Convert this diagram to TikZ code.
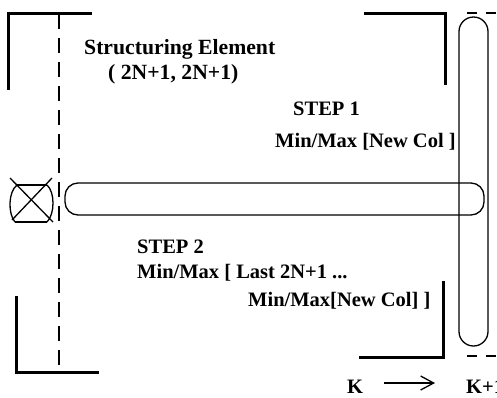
\documentclass[tikz,border=0pt]{standalone}
\usepackage{fontspec}
\setmainfont{Liberation Serif}
\usetikzlibrary{arrows.meta}
\tikzset{
  bracket/.style={line width=3pt, line cap=rect},
  capsule/.style={line width=1.3pt},
  guide/.style={line width=1.3pt, dash pattern=on 15pt off 9pt},
  guideh/.style={line width=1.3pt, dash pattern=on 10pt off 9pt},
  lbl/.style={font=\fontsize{20.5}{24}\selectfont\bfseries, inner sep=0pt, anchor=base west},
  biglbl/.style={lbl, font=\fontsize{21.7}{26}\selectfont\bfseries},
}
\begin{document}
\begin{tikzpicture}[x=1pt,y=-1pt]
\useasboundingbox (0,0) rectangle (497,397);
% brackets
\draw[bracket] (90,13) -- (8,13) -- (8,88);
\draw[bracket] (16,297) -- (16,372) -- (97,372);
\draw[bracket] (365,13) -- (445,13) -- (445,83);
\draw[bracket] (443,282) -- (443,357) -- (360,357);
% dashed guide
\draw[guide] (59,14) -- (59,372);
\draw[guideh] (467,13) -- (500,13);
\draw[guideh] (467,356) -- (500,356);
% capsules
\draw[capsule, rounded corners=13] (65,183) rectangle (484,215);
\draw[capsule, rounded corners=14.5] (459,17) rectangle (488,346);
% crossed symbol
\draw[capsule] (17,185) -- (47,185);
\draw[capsule] (15,222) -- (47,222);
\draw[capsule] (17,185) .. controls (8,192) and (8,214) .. (15,222);
\draw[capsule] (47,185) .. controls (55,192) and (55,214) .. (47,222);
\draw[capsule] (10,178) -- (53,222);
\draw[capsule] (52,178) -- (12,220);
% texts
\node[biglbl] (se) at (84,54) {Structuring Element};
\node[biglbl] (sz) at (108,79) {( 2N+1, 2N+1)};
\node[lbl] (s1) at (293,115) {STEP 1};
\node[lbl] (m1) at (275,147) {Min/Max [New Col ]};
\node[lbl] (s2) at (137,253) {STEP 2};
\node[lbl] (m2) at (137,278) {Min/Max [ Last 2N+1 ...};
\node[lbl] (m3) at (248,306) {Min/Max[New Col] ]};
\node[lbl] (k) at (347,393) {K};
\node[lbl] (k1) at (466,393) {K+1};
\draw[line width=1.3pt, -{Straight Barb[length=13pt,width=14pt]}] ([xshift=21pt,yshift=10pt]k.base east) -- ([xshift=-31pt,yshift=10pt]k1.base west);
\end{tikzpicture}
\end{document}
